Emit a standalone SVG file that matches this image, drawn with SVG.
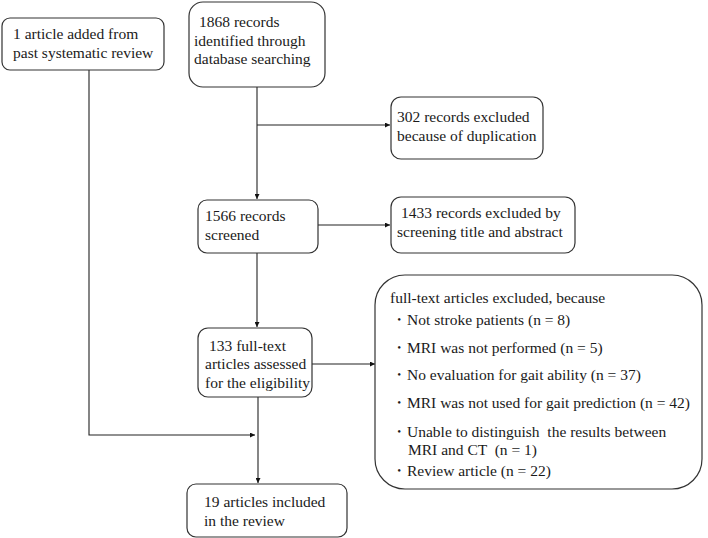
<svg xmlns="http://www.w3.org/2000/svg" width="708" height="538" viewBox="0 0 708 538">
<defs>
<marker id="ah" viewBox="0 0 10 10" refX="10" refY="5" markerWidth="5" markerHeight="5" orient="auto" markerUnits="userSpaceOnUse">
<path d="M0,0 L10,5 L0,10 z" fill="#111"/>
</marker>
</defs>
<style>
.box{fill:#fff;stroke:#333;stroke-width:1.2}
text{font-size:15.5px;fill:#1a1a1a;white-space:pre}
.ln{fill:none;stroke:#222;stroke-width:1.1}
</style>
<rect width="708" height="538" fill="#fff"/>
<g id="connectors">
<line class="ln" x1="257" y1="87" x2="257" y2="199" marker-end="url(#ah)"/>
<line class="ln" x1="257" y1="125" x2="390" y2="125" marker-end="url(#ah)"/>
<line class="ln" x1="318" y1="225" x2="390" y2="225" marker-end="url(#ah)"/>
<line class="ln" x1="257" y1="253" x2="257" y2="327" marker-end="url(#ah)"/>
<line class="ln" x1="312" y1="364" x2="375" y2="364" marker-end="url(#ah)"/>
<line class="ln" x1="258" y1="397" x2="258" y2="483" marker-end="url(#ah)"/>
<polyline class="ln" points="89,70 89,435 255,435" marker-end="url(#ah)"/>
</g>
<g font-family="'Liberation Serif', 'Times New Roman', 'DejaVu Serif', serif">
<g id="node-past">
<rect class="box" x="2" y="18" width="162" height="52" rx="8"/>
<text x="13" y="39">1 article added from</text>
<text x="13" y="58">past systematic review</text>
</g>
<g id="node-identified">
<rect class="box" x="189" y="2" width="136" height="85" rx="14"/>
<text x="199" y="27">1868 records</text>
<text x="194" y="46">identified through</text>
<text x="194" y="64">database searching</text>
</g>
<g id="node-duplication">
<rect class="box" x="391" y="97" width="152" height="62" rx="10"/>
<text x="397" y="122">302 records excluded</text>
<text x="397" y="141">because of duplication</text>
</g>
<g id="node-screened">
<rect class="box" x="198" y="200" width="120" height="53" rx="9"/>
<text x="205" y="221">1566 records</text>
<text x="205" y="240">screened</text>
</g>
<g id="node-excluded-screening">
<rect class="box" x="391" y="197" width="184" height="56" rx="10"/>
<text x="401" y="218">1433 records excluded by</text>
<text x="397" y="237">screening title and abstract</text>
</g>
<g id="node-fulltext">
<rect class="box" x="198" y="328" width="114" height="69" rx="10"/>
<text x="209" y="351">133 full-text</text>
<text x="205" y="369">articles assessed</text>
<text x="205" y="388">for the eligibility</text>
</g>
<g id="node-excluded-fulltext">
<rect class="box" x="375" y="275" width="327" height="214" rx="30"/>
<text x="390" y="303">full-text articles excluded, because</text>
<text x="391" y="325">・Not stroke patients (n = 8)</text>
<text x="391" y="353">・MRI was not performed (n = 5)</text>
<text x="391" y="380">・No evaluation for gait ability (n = 37)</text>
<text x="391" y="408">・MRI was not used for gait prediction (n = 42)</text>
<text x="391" y="437">・Unable to distinguish  the results between</text>
<text x="408" y="455">MRI and CT  (n = 1)</text>
<text x="391" y="476">・Review article (n = 22)</text>
</g>
<g id="node-included">
<rect class="box" x="187" y="484" width="160" height="53" rx="9"/>
<text x="204" y="507">19 articles included</text>
<text x="204" y="526">in the review</text>
</g>
</g>
</svg>
